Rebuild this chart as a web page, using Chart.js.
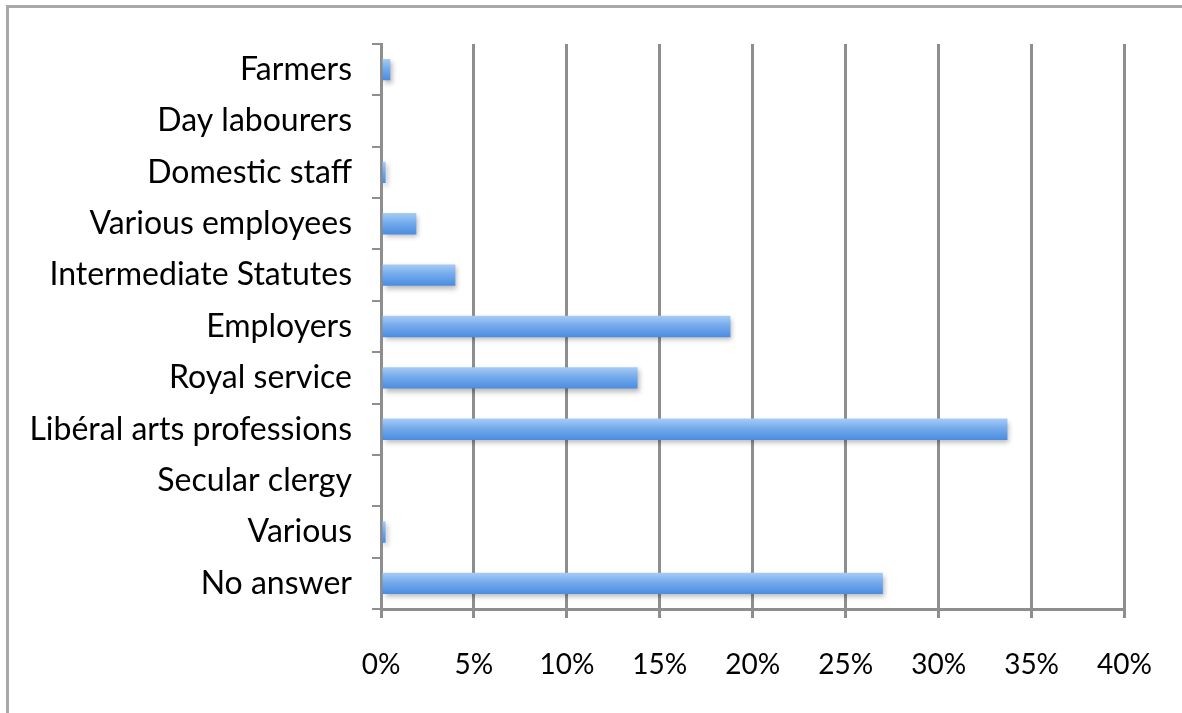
<!DOCTYPE html>
<html>
<head>
<meta charset="utf-8">
<script src="https://cdn.jsdelivr.net/npm/chart.js@4/dist/chart.umd.min.js"></script>
<style>
  html, body { margin: 0; padding: 0; background: #fff; }
  #wrap { position: relative; width: 1182px; height: 713px; }
</style>
</head>
<body>
<div id="wrap"><canvas id="chart"></canvas></div>
<script>
// Data (percent of respondents)
const categories = [
    'Farmers', 'Day labourers', 'Domestic staff', 'Various employees',
    'Intermediate Statutes', 'Employers', 'Royal service',
    'Libéral arts professions', 'Secular clergy', 'Various', 'No answer'
];
const shares = [0.5, 0, 0.25, 1.9, 4.0, 18.8, 13.8, 33.7, 0, 0.25, 27.0];
const xTicks = [0, 5, 10, 15, 20, 25, 30, 35, 40];

const GRID = '#8e8e8e';
const FONT = 'Lato, "Open Sans", sans-serif';

// outer frame of the original image (only top and left edges are visible)
const framePlugin = {
    id: 'frame',
    beforeDraw(chart) {
        const c = chart.ctx;
        c.save();
        c.strokeStyle = '#a8a8a8';
        c.lineWidth = 3;
        c.beginPath();
        c.moveTo(7.5, chart.height);
        c.lineTo(7.5, 6.5);
        c.lineTo(chart.width, 6.5);
        c.stroke();
        c.restore();
    }
};

// soft drop shadow under the bars
const shadowPlugin = {
    id: 'barShadow',
    beforeDatasetsDraw(chart) {
        const c = chart.ctx;
        c.save();
        c.shadowColor = 'rgba(0,0,0,0.28)';
        c.shadowBlur = 5;
        c.shadowOffsetX = 2;
        c.shadowOffsetY = 3;
    },
    afterDatasetsDraw(chart) {
        chart.ctx.restore();
    }
};

function barGradient(context) {
    const chart = context.chart;
    const y = chart.scales.y;
    const center = y ? y.getPixelForValue(context.dataIndex) : NaN;
    if (!isFinite(center)) return '#6aa5ea';
    const half = 11;
    const g = chart.ctx.createLinearGradient(0, center - half, 0, center + half);
    g.addColorStop(0, '#a9cdf6');
    g.addColorStop(0.45, '#74abec');
    g.addColorStop(1, '#4a8be0');
    return g;
}

new Chart(document.getElementById('chart'), {
    type: 'bar',
    data: {
        labels: categories,
        datasets: [{
            data: shares,
            backgroundColor: barGradient,
            borderWidth: 0,
            barPercentage: 0.8,
            categoryPercentage: 0.52
        }]
    },
    options: {
        indexAxis: 'y',
        responsive: true,
        maintainAspectRatio: false,
        animation: false,
        layout: { padding: { top: 44, right: 52, left: 0, bottom: 0 } },
        plugins: {
            legend: { display: false },
            tooltip: { enabled: false }
        },
        scales: {
            x: {
                min: 0,
                max: 40,
                afterBuildTicks(scale) {
                    scale.ticks = xTicks.map(v => ({ value: v }));
                },
                afterFit(scale) { scale.height = 104; },
                grid: { color: GRID, lineWidth: 3, tickLength: 9 },
                border: { color: GRID, width: 3 },
                ticks: {
                    color: '#000',
                    padding: 30,
                    font: { family: FONT, size: 28 },
                    callback: v => v + '%'
                }
            },
            y: {
                afterFit(scale) { scale.width = 381; },
                grid: { drawOnChartArea: false, color: GRID, lineWidth: 2, tickLength: 9, offset: true },
                border: { color: GRID, width: 3 },
                ticks: {
                    color: '#000',
                    padding: 20,
                    font: { family: FONT, size: 32 }
                }
            }
        }
    },
    plugins: [framePlugin, shadowPlugin]
});
</script>
</body>
</html>
